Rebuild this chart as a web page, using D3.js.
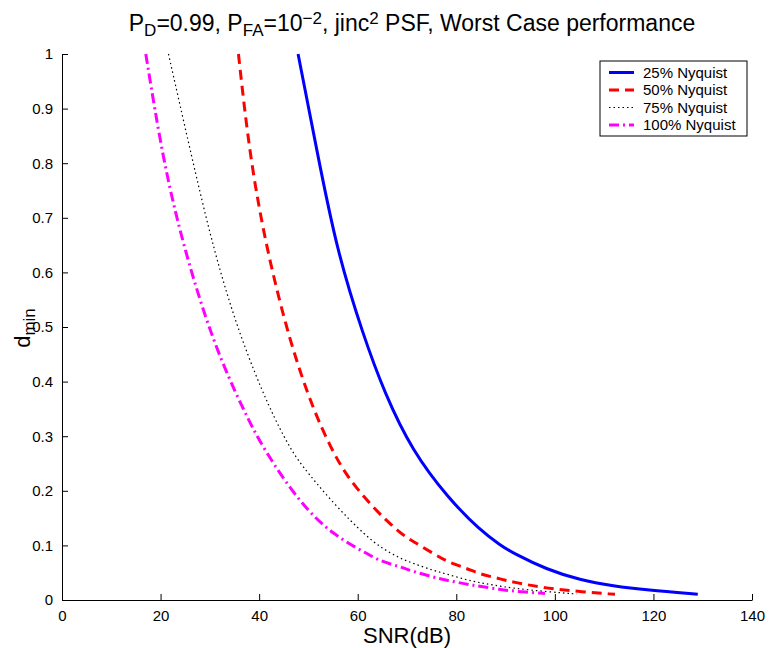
<!DOCTYPE html>
<html><head><meta charset="utf-8">
<script src="https://cdn.jsdelivr.net/npm/d3@7"></script>
<style>
body{margin:0;background:#fff;}
text{font-family:"Liberation Sans",Arial,sans-serif;fill:#000;}
</style></head>
<body>
<svg id="c" width="771" height="648"></svg>
<script>
const xTicks=[0,20,40,60,80,100,120,140];
const yTicks=[0,0.1,0.2,0.3,0.4,0.5,0.6,0.7,0.8,0.9,1];
const seriesNames=["25% Nyquist","50% Nyquist","75% Nyquist","100% Nyquist"];
const snr25=[47.9,51.7,55.7,61.1,65.5,71.0,78.4,84.8,89.0,91.6,98.3,105.1,111.9,118.6,129.0];
const d25=[1.0,0.824,0.642,0.485,0.378,0.274,0.186,0.128,0.100,0.0855,0.056,0.0366,0.0256,0.0183,0.0104];
const snr50=[35.8,38.1,41.5,46.3,51.0,54.7,57.8,63.2,68.6,71.3,75.3,78.1,82.1,84.8,88.5,91.6,98.3,105.1,112.2];
const d50=[1.0,0.812,0.642,0.470,0.348,0.276,0.226,0.168,0.122,0.107,0.0855,0.070,0.058,0.0476,0.0397,0.0324,0.0214,0.0153,0.0104];
const snr75=[21.6,26.0,30.7,36.1,42.2,46.1,48.3,55.0,61.8,64.9,68.6,71.3,75.3,78.1,82.1,84.8,87.5,91.6,98.3,104.4];
const d75=[1.0,0.824,0.642,0.482,0.348,0.281,0.25,0.177,0.116,0.095,0.076,0.067,0.054,0.0476,0.0366,0.0317,0.0275,0.0214,0.0153,0.011];
const snr100=[17.0,20.6,24.8,30.7,36.8,40.9,48.3,55.0,61.8,64.5,68.6,71.3,75.3,78.1,82.1,84.8,88.9,91.6,98.0];
const d100=[1.0,0.80,0.642,0.470,0.348,0.276,0.177,0.119,0.0855,0.0714,0.061,0.052,0.042,0.036,0.029,0.025,0.0195,0.016,0.012];

const svg=d3.select("#c");
const L=62,R=752,T=54,B=600;
const x=d3.scaleLinear().domain([0,140]).range([L,R]);
const y=d3.scaleLinear().domain([0,1]).range([B,T]);

const styles=[
 {c:"#0000ff",w:3,da:null},
 {c:"#ff0000",w:3,da:"10,6"},
 {c:"#000000",w:1.2,da:"1.5,3"},
 {c:"#ff00ff",w:3,da:"10,4,2,4"}
];
const data=[[snr25,d25],[snr50,d50],[snr75,d75],[snr100,d100]].map(([a,b])=>a.map((v,i)=>[v,b[i]]));
const line=d3.line().x(d=>x(d[0])).y(d=>y(d[1])).curve(d3.curveBasis);
data.forEach((s,i)=>{
  const p=svg.append("path").attr("d",line(s)).attr("fill","none")
   .attr("stroke",styles[i].c).attr("stroke-width",styles[i].w);
  if(styles[i].da)p.attr("stroke-dasharray",styles[i].da);
});

// axes
const xa=svg.append("g").attr("transform",`translate(0,${B})`)
 .call(d3.axisBottom(x).tickValues(xTicks).tickSizeInner(-6).tickSizeOuter(0).tickPadding(10).tickFormat(d3.format("d")));
const ya=svg.append("g").attr("transform",`translate(${L},0)`)
 .call(d3.axisLeft(y).tickValues(yTicks).tickSizeInner(-6).tickSizeOuter(0).tickPadding(9).tickFormat(d=>d===0?"0":d===1?"1":d3.format(".1f")(d)));
[xa,ya].forEach(g=>{g.select(".domain").attr("stroke","#000");g.selectAll("line").attr("stroke","#000");
 g.selectAll("text").attr("font-size",15).style("font-family",'"Liberation Sans",Arial,sans-serif');});

// title
const t=svg.append("text").attr("x",412).attr("y",31).attr("text-anchor","middle").attr("font-size",23);
t.append("tspan").text("P");
t.append("tspan").attr("baseline-shift","-30%").attr("font-size",17).text("D");
t.append("tspan").text("=0.99, P");
t.append("tspan").attr("baseline-shift","-30%").attr("font-size",17).text("FA");
t.append("tspan").text("=10");
t.append("tspan").attr("baseline-shift","40%").attr("font-size",17).text("\u22122");
t.append("tspan").text(", jinc");
t.append("tspan").attr("baseline-shift","40%").attr("font-size",17).text("2");
t.append("tspan").text(" PSF, Worst Case performance");

svg.append("text").attr("x",407).attr("y",643).attr("text-anchor","middle").attr("font-size",22).text("SNR(dB)");
const yl=svg.append("text").attr("transform","translate(30,328) rotate(-90)").attr("text-anchor","middle").attr("font-size",22);
yl.append("tspan").text("d");
yl.append("tspan").attr("baseline-shift","-30%").attr("font-size",17).text("min");

// legend
const lg=svg.append("g");
lg.append("rect").attr("x",600).attr("y",61).attr("width",147).attr("height",75).attr("fill","#fff").attr("stroke","#000").attr("stroke-width",1);
seriesNames.forEach((n,i)=>{
  const yy=72.5+i*17.5;
  const l=lg.append("line").attr("x1",609).attr("x2",634).attr("y1",yy).attr("y2",yy)
   .attr("stroke",styles[i].c).attr("stroke-width",styles[i].w);
  if(styles[i].da)l.attr("stroke-dasharray",styles[i].da);
  lg.append("text").attr("x",643).attr("y",yy+5).attr("font-size",15).text(n);
});
</script></body></html>
